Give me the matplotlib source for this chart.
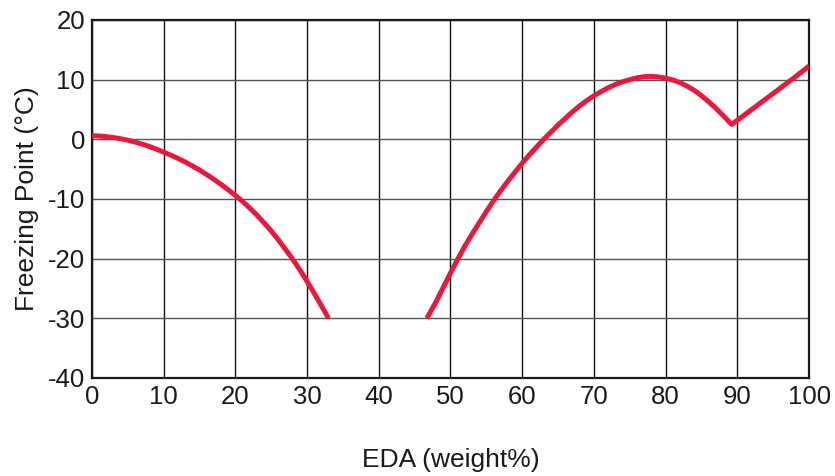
import matplotlib.pyplot as plt

# datos
eda_izq = [0, 1, 2, 3, 4, 5, 6, 7, 8, 9, 10, 11, 12, 13, 14, 15, 16, 17, 18, 19, 20,
           21, 22, 23, 24, 25, 26, 27, 28, 29, 30, 31, 32, 33]
fp_izq = [0.6, 0.55, 0.45, 0.3, 0.1, -0.15, -0.45, -0.8, -1.2, -1.65, -2.15, -2.65, -3.2,
          -3.8, -4.45, -5.15, -5.9, -6.7, -7.55, -8.45, -9.4, -10.4, -11.5, -12.7, -14.0,
          -15.35, -16.85, -18.45, -20.1, -21.9, -23.8, -25.8, -27.9, -30.0]

eda_der = [46.7, 48, 49, 50, 51, 52, 53, 54, 55, 56, 57, 58, 59, 60, 61, 62, 63, 64, 65,
           66, 67, 68, 69, 70, 71, 72, 73, 74, 75, 76, 77, 78, 79, 80, 81, 82, 83, 84,
           85, 86, 87, 88, 89.2, 90, 92, 94, 96, 98, 100]
fp_der = [-30.0, -27.2, -24.8, -22.4, -20.1, -17.9, -15.9, -14.0, -12.1, -10.3, -8.6,
          -7.0, -5.5, -4.0, -2.6, -1.3, 0.0, 1.2, 2.4, 3.5, 4.6, 5.6, 6.5, 7.3, 8.0, 8.65,
          9.2, 9.65, 10.0, 10.3, 10.5, 10.55, 10.45, 10.25, 9.95, 9.5, 8.9, 8.2, 7.3,
          6.3, 5.2, 4.0, 2.5, 3.2, 5.0, 6.8, 8.6, 10.4, 12.3]

xticks = [0, 10, 20, 30, 40, 50, 60, 70, 80, 90, 100]
yticks = [-40, -30, -20, -10, 0, 10, 20]

plt.rcParams['font.family'] = ['Liberation Sans', 'DejaVu Sans']
plt.rcParams['axes.unicode_minus'] = False

fig = plt.figure(figsize=(8.35, 4.76), dpi=100)
ax = fig.add_axes([0.110, 0.206, 0.859, 0.752])

for xs, ys in ((eda_izq, fp_izq), (eda_der, fp_der)):
    ax.plot(xs, ys, color='#e8193c', lw=3.6, solid_capstyle='butt',
            solid_joinstyle='round', zorder=3)

ax.set_xlim(0, 100)
ax.set_ylim(-40, 20)
ax.set_xticks(xticks)
ax.set_yticks(yticks)
ax.tick_params(length=0, labelsize=18.5, pad=5, colors='#1a1a1a')
ax.grid(True, axis='x', color='#111111', lw=1.0)
ax.grid(True, axis='y', color='#555555', lw=1.0)
for s in ax.spines.values():
    s.set_linewidth(1.6)
    s.set_color('#1a1a1a')

ax.set_xlabel('EDA (weight%)', fontsize=19, labelpad=28, color='#1a1a1a')
ax.set_ylabel('Freezing Point (°C)', fontsize=19, labelpad=6, color='#1a1a1a')

fig.savefig('out.png', dpi=100)
